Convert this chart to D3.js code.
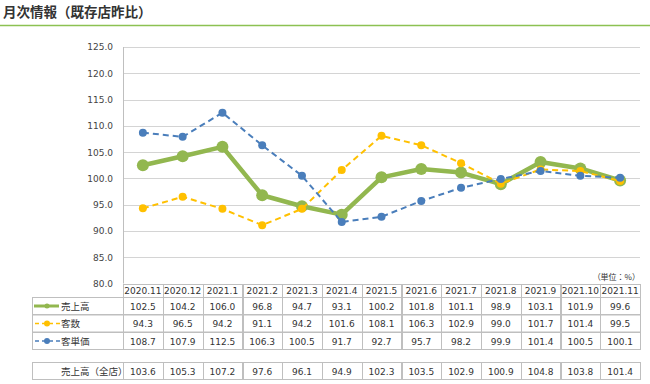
<!DOCTYPE html>
<html>
<head>
<meta charset="utf-8">
<script src="https://cdn.jsdelivr.net/npm/d3@7"></script>
<style>
  body { margin: 0; background: #fff; }
  svg { display: block; }
</style>
</head>
<body>
<div id="chart"></div>
<script>
// data
var months = ["2020.11","2020.12","2021.1","2021.2","2021.3","2021.4","2021.5","2021.6","2021.7","2021.8","2021.9","2021.10","2021.11"];
var sales = [102.5,104.2,106.0,96.8,94.7,93.1,100.2,101.8,101.1,98.9,103.1,101.9,99.6];
var customers = [94.3,96.5,94.2,91.1,94.2,101.6,108.1,106.3,102.9,99.0,101.7,101.4,99.5];
var unitPrice = [108.7,107.9,112.5,106.3,100.5,91.7,92.7,95.7,98.2,99.9,101.4,100.5,100.1];
var salesAll = [103.6,105.3,107.2,97.6,96.1,94.9,102.3,103.5,102.9,100.9,104.8,103.8,101.4];
var yTicks = [80,85,90,95,100,105,110,115,120,125];

var series = [
  { name: "売上高", values: sales, color: "#92b74f", width: 4.5, dash: null, r: 6 },
  { name: "客数", values: customers, color: "#ffc000", width: 2, dash: "6,4", r: 4 },
  { name: "客単価", values: unitPrice, color: "#4a7ebb", width: 2, dash: "6,4", r: 4 }
];

var W = 650, H = 384;
var numFont = "'DejaVu Sans', Verdana, sans-serif";
var jpFont = "'Noto Sans CJK JP', sans-serif";
var gridColor = "#d4d4d4";
var tableColor = "#bfbfbf";

var svg = d3.select("#chart").append("svg")
  .attr("width", W)
  .attr("height", H);

// title
svg.append("text")
  .attr("x", 3)
  .attr("y", 17)
  .attr("font-family", jpFont)
  .attr("font-weight", "bold")
  .attr("font-size", 13.5)
  .attr("fill", "#333")
  .text("月次情報（既存店昨比）");

svg.append("line")
  .attr("x1", 0).attr("x2", W)
  .attr("y1", 25.5).attr("y2", 25.5)
  .attr("stroke", "#8cc152")
  .attr("stroke-width", 1.5);

var plotLeft = 123, plotRight = 640, plotTop = 47, plotBottom = 283.5;
var labelLeft = 32.5;

var x = d3.scaleBand()
  .domain(months)
  .range([plotLeft, plotRight]);

var y = d3.scaleLinear()
  .domain([80, 125])
  .range([plotBottom, plotTop]);

// gridlines
svg.append("g")
  .selectAll("line")
  .data(yTicks.slice(1))
  .join("line")
    .attr("x1", plotLeft)
    .attr("x2", plotRight)
    .attr("y1", d => Math.round(y(d)) + 0.5)
    .attr("y2", d => Math.round(y(d)) + 0.5)
    .attr("stroke", gridColor);

svg.append("line")
  .attr("x1", plotLeft + 0.5).attr("x2", plotLeft + 0.5)
  .attr("y1", plotTop).attr("y2", plotBottom)
  .attr("stroke", tableColor);

// y axis labels
var yAxis = d3.axisLeft(y)
  .tickValues(yTicks)
  .tickFormat(d3.format(".1f"))
  .tickSize(0)
  .tickPadding(10);

svg.append("g")
  .attr("transform", `translate(${plotLeft},0)`)
  .call(yAxis)
  .call(g => g.select(".domain").remove())
  .call(g => g.selectAll("text")
    .attr("font-family", numFont)
    .attr("font-size", 9)
    .attr("fill", "#444"));

// lines
var cx = d => x(d) + x.bandwidth() / 2;

series.forEach(function(s) {
  var pts = months.map((m, i) => [cx(m), y(s.values[i])]);
  var line = d3.line();

  svg.append("path")
    .attr("d", line(pts))
    .attr("fill", "none")
    .attr("stroke", s.color)
    .attr("stroke-width", s.width)
    .attr("stroke-dasharray", s.dash)
    .attr("stroke-linejoin", "round");

  svg.append("g")
    .selectAll("circle")
    .data(pts)
    .join("circle")
      .attr("cx", d => d[0])
      .attr("cy", d => d[1])
      .attr("r", s.r)
      .attr("fill", s.color);
});

// data table
var headTop = 284, rowH = 17;
var rowTops = [297, 314.5, 332];
var totalTop = 362;

var table = svg.append("g")
  .attr("fill", "none")
  .attr("stroke", tableColor);

// header cells
months.forEach(function(m) {
  table.append("rect")
    .attr("x", Math.round(x(m)) + 0.5)
    .attr("y", headTop + 0.5)
    .attr("width", Math.round(x.bandwidth()))
    .attr("height", rowTops[0] - headTop);
});

// series rows
rowTops.forEach(function(top, ri) {
  table.append("rect")
    .attr("x", labelLeft)
    .attr("y", top + 0.5)
    .attr("width", plotLeft - labelLeft + 0.5)
    .attr("height", rowH);
  months.forEach(function(m) {
    table.append("rect")
      .attr("x", Math.round(x(m)) + 0.5)
      .attr("y", top + 0.5)
      .attr("width", Math.round(x.bandwidth()))
      .attr("height", rowH);
  });
});

table.append("rect")
  .attr("x", labelLeft)
  .attr("y", totalTop + 0.5)
  .attr("width", plotLeft - labelLeft + 0.5)
  .attr("height", rowH);
months.forEach(function(m) {
  table.append("rect")
    .attr("x", Math.round(x(m)) + 0.5)
    .attr("y", totalTop + 0.5)
    .attr("width", Math.round(x.bandwidth()))
    .attr("height", rowH);
});

// header text
svg.append("g")
  .selectAll("text")
  .data(months)
  .join("text")
    .attr("x", cx)
    .attr("y", headTop + 10)
    .attr("text-anchor", "middle")
    .attr("font-family", numFont)
    .attr("font-size", 9)
    .attr("fill", "#333")
    .text(d => d);

svg.append("text")
  .attr("x", plotRight)
  .attr("y", 280)
  .attr("text-anchor", "end")
  .attr("font-family", jpFont)
  .attr("font-size", 8)
  .attr("fill", "#333")
  .text("（単位：%）");

// series rows text + legend keys
series.forEach(function(s, i) {
  var top = rowTops[i];
  var mid = top + rowH / 2 + 0.5;
  var key = svg.append("g");
  if (s.dash) {
    key.append("line")
      .attr("x1", 35).attr("x2", 60)
      .attr("y1", mid).attr("y2", mid)
      .attr("stroke", s.color)
      .attr("stroke-width", 1.5)
      .attr("stroke-dasharray", "4,3");
    key.append("circle")
      .attr("cx", 47).attr("cy", mid).attr("r", 3)
      .attr("fill", s.color);
  } else {
    key.append("line")
      .attr("x1", 34).attr("x2", 59)
      .attr("y1", mid).attr("y2", mid)
      .attr("stroke", s.color)
      .attr("stroke-width", 3);
    key.append("circle")
      .attr("cx", 47).attr("cy", mid).attr("r", 2.5)
      .attr("fill", s.color);
  }
  svg.append("text")
    .attr("x", 61)
    .attr("y", mid + 3.5)
    .attr("font-family", jpFont)
    .attr("font-size", 9.5)
    .attr("fill", "#333")
    .text(s.name);

  svg.append("g")
    .selectAll("text")
    .data(s.values)
    .join("text")
      .attr("x", (d, j) => cx(months[j]))
      .attr("y", mid + 3.5)
      .attr("text-anchor", "middle")
      .attr("font-family", numFont)
      .attr("font-size", 9)
      .attr("fill", "#333")
      .text(d => d3.format(".1f")(d));
});

// total row
var totalMid = totalTop + rowH / 2 + 0.5;
svg.append("text")
  .attr("x", 61)
  .attr("y", totalMid + 3.5)
  .attr("font-family", jpFont)
  .attr("font-size", 9.5)
  .attr("fill", "#333")
  .text("売上高（全店）");

svg.append("g")
  .selectAll("text")
  .data(salesAll)
  .join("text")
    .attr("x", (d, j) => cx(months[j]))
    .attr("y", totalMid + 3.5)
    .attr("text-anchor", "middle")
    .attr("font-family", numFont)
    .attr("font-size", 9)
    .attr("fill", "#333")
    .text(d => d3.format(".1f")(d));
</script>
</body>
</html>
